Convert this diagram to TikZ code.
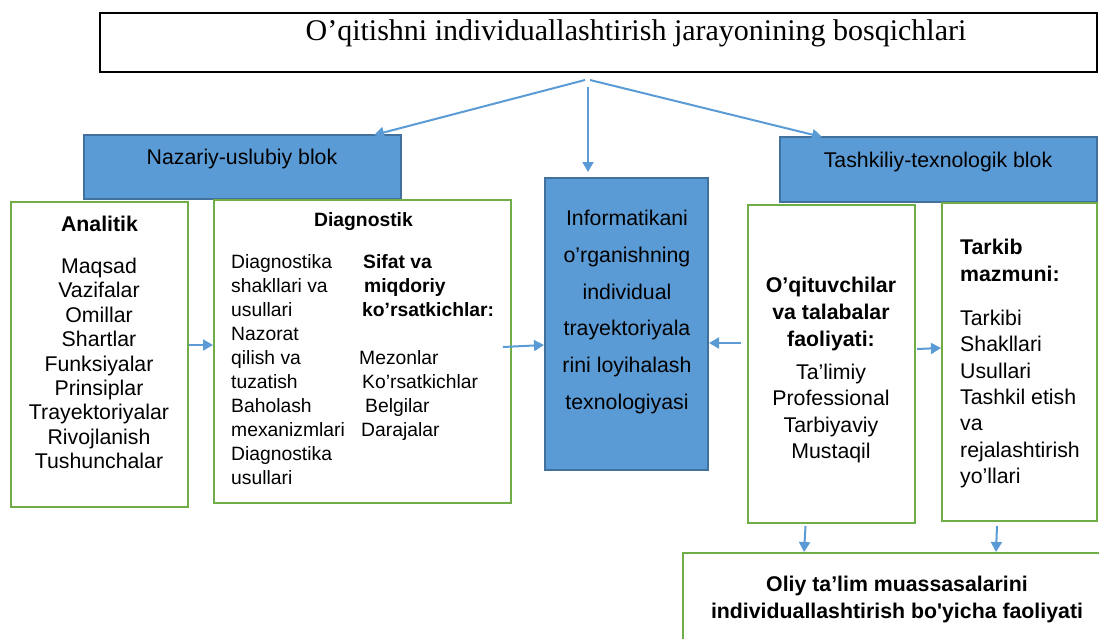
\documentclass[tikz,border=0pt]{standalone}
\usepackage{fontspec}
\setmainfont{Liberation Sans}
\newfontfamily\titlefont{Liberation Serif}
\usetikzlibrary{arrows.meta,calc}
\definecolor{bfill}{HTML}{5B9BD5}
\definecolor{bdraw}{HTML}{41719C}
\definecolor{gdraw}{HTML}{70AD47}
\definecolor{arr}{HTML}{5B9BD5}
\tikzset{
 bluebox/.style={draw=bdraw, fill=bfill, line width=2pt, inner sep=0pt},
 greenbox/.style={draw=gdraw, fill=white, line width=2pt, inner sep=0pt},
 titlebox/.style={draw=black, line width=2pt, inner sep=0pt},
 txt/.style={font=\fontsize{21.3}{25}\selectfont, inner sep=0pt, text height=15pt, text depth=0pt},
 btxt/.style={txt, font=\fontsize{21.3}{25}\selectfont\bfseries},
 stxt/.style={txt, font=\fontsize{19.3}{23}\selectfont, text height=14pt},
 sbtxt/.style={txt, font=\fontsize{19.3}{23}\selectfont\bfseries, text height=14pt},
 conn/.style={draw=arr, line width=2pt, -{Triangle[length=10pt,width=11pt]}},
}
\begin{document}
\begin{tikzpicture}[x=1pt,y=-1pt]
\useasboundingbox (0,0) rectangle (1099,638);
% boxes
\node[titlebox, minimum width=997pt, minimum height=59pt] (title) at (598.5,42.5) {};
\node[bluebox, minimum width=317pt, minimum height=64pt] (naz) at (242.5,167) {};
\node[bluebox, minimum width=317pt, minimum height=65pt] (tash) at (938.5,169.5) {};
\node[bluebox, minimum width=163pt, minimum height=292pt] (info) at (626.5,324) {};
\node[greenbox, minimum width=177pt, minimum height=305pt] (ana) at (99.5,354.5) {};
\node[greenbox, minimum width=297pt, minimum height=303pt] (diag) at (362.5,351.5) {};
\node[greenbox, minimum width=167pt, minimum height=318pt] (oqit) at (831.5,364) {};
\node[greenbox, minimum width=155pt, minimum height=318pt] (tark) at (1019.5,362) {};
\node[greenbox, minimum width=427pt, minimum height=97pt] (oliy) at (896.5,601.5) {};
% texts
\node[inner sep=0pt, font=\titlefont\fontsize{30}{34}\selectfont, text height=20pt, text depth=0pt] (titletxt) at (636,30) {O’qitishni individuallashtirish jarayonining bosqichlari};
\node[txt] (naztxt) at (242,157) {Nazariy-uslubiy blok};
\node[txt] (tashtxt) at (938,160) {Tashkiliy-texnologik blok};
\foreach \t [count=\i] in {Informatikani,o’rganishning,individual,trayektoriyala,rini loyihalash,texnologiyasi}
  \node[txt] (info\i) at (627,{218+36.8*(\i-1)}) {\t};
\node[btxt] (anahead) at (99.5,224) {Analitik};
\foreach \t [count=\i] in {Maqsad,Vazifalar,Omillar,Shartlar,Funksiyalar,Prinsiplar,Trayektoriyalar,Rivojlanish,Tushunchalar}
  \node[txt] (ana\i) at (99,{266+24.4*(\i-1)}) {\t};
\node[sbtxt] (diaghead) at (363.5,219) {Diagnostik};
\foreach \t [count=\i] in {Diagnostika,shakllari va,usullari,Nazorat,qilish va,tuzatish,Baholash,mexanizmlari,Diagnostika,usullari}
  \node[stxt, anchor=west] (diagl\i) at (231,{261+24*(\i-1)}) {\t};
\node[sbtxt, anchor=west] (sifat1) at (363,261) {Sifat va};
\node[sbtxt, anchor=west] (sifat2) at (364,285) {miqdoriy};
\node[sbtxt, anchor=west] (sifat3) at (362,309) {ko’rsatkichlar:};
\node[stxt, anchor=west] (mez1) at (359,357) {Mezonlar};
\node[stxt, anchor=west] (mez2) at (362,381) {Ko’rsatkichlar};
\node[stxt, anchor=west] (mez3) at (365,405) {Belgilar};
\node[stxt, anchor=west] (mez4) at (361,429) {Darajalar};
\foreach \t [count=\i] in {O’qituvchilar,va talabalar,faoliyati:}
  \node[btxt] (oqh\i) at (831,{285+27*(\i-1)}) {\t};
\foreach \t [count=\i] in {Ta’limiy,Professional,Tarbiyaviy,Mustaqil}
  \node[txt] (oq\i) at (831,{372+26.3*(\i-1)}) {\t};
\node[btxt, anchor=west] (tarh1) at (960,247) {Tarkib};
\node[btxt, anchor=west] (tarh2) at (960,274) {mazmuni:};
\foreach \t [count=\i] in {Tarkibi,Shakllari,Usullari,Tashkil etish,va,rejalashtirish,yo’llari}
  \node[txt, anchor=west] (tar\i) at (960,{318+26.3*(\i-1)}) {\t};
\node[btxt] (oliy1) at (897,584) {Oliy ta’lim muassasalarini};
\node[btxt] (oliy2) at (897,611) {individuallashtirish bo\textquotesingle yicha faoliyati};
% connectors
\coordinate (srcL) at (585,80);
\coordinate (srcM) at (588,87);
\coordinate (srcR) at (590,80);
\coordinate (nazT) at (374,135);
\coordinate (infoT) at (588,172);
\coordinate (tashT) at (822,137);
\draw[conn] (srcL) -- (nazT);
\draw[conn] (srcM) -- (infoT);
\draw[conn] (srcR) -- (tashT);
\draw[conn] ($(ana.east)+(0,-9.5)$) -- ($(diag.west)+(0,-6.5)$);
\draw[conn] ($(diag.east)+(-9,-4.5)$) -- ($(info.west)+(0,21)$);
\draw[conn] ($(oqit.west)+(-6,-21)$) -- ($(info.east)+(0,19)$);
\draw[conn] ($(oqit.east)+(1,-15)$) -- ($(tark.west)+(0,-14)$);
\draw[conn] ($(oqit.south)+(-26,2)$) -- ($(oliy.north west)+(122,0)$);
\draw[conn] ($(tark.south)+(-22.5,4)$) -- ($(oliy.north west)+(314,0)$);
\end{tikzpicture}
\end{document}
